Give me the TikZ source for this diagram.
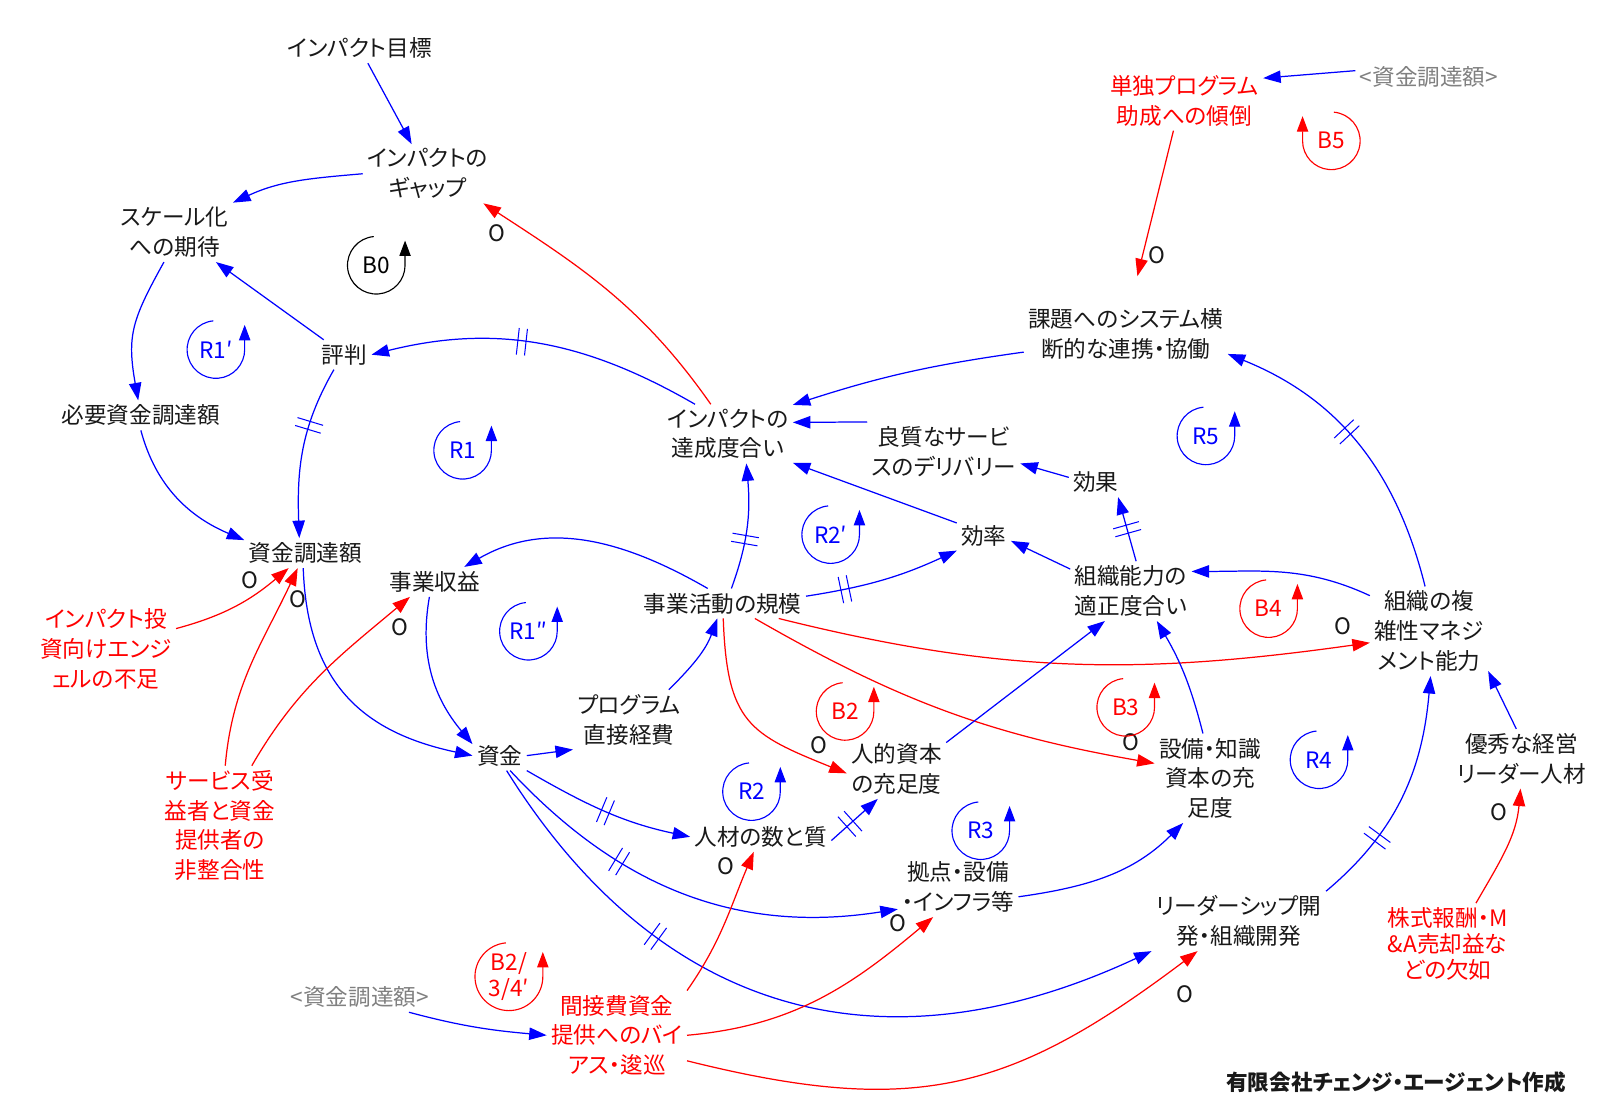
\documentclass[tikz,border=0pt]{standalone}
\usepackage{fontspec}
\setmainfont{Noto Sans CJK JP}[RawFeature=+palt]
\usetikzlibrary{arrows.meta,decorations.markings,calc}
\definecolor{cblue}{RGB}{0,0,255}
\definecolor{cred}{RGB}{255,0,0}
\definecolor{ctext}{RGB}{25,25,25}
\definecolor{cgray}{RGB}{128,128,128}
\newcommand\lpccw[5]{%
  \draw[#5, line width=0.55pt, -{Triangle[length=7.5pt,width=5.5pt]}] (#1,#2) ++(95:28) arc[start angle=95,end angle=360,radius=28] -- ++(0,24);
  \node[lbl, text=#5] (#4) at (#1,#2) {#3};}
\begin{document}
\begin{tikzpicture}[x=0.5pt,y=0.5pt,
  txt/.style={font=\fontsize{11}{14.5}\selectfont, align=center, inner sep=2pt, text=ctext},
  rtxt/.style={txt, text=cred},
  gtxt/.style={txt, text=cgray},
  lbl/.style={font=\fontsize{11}{12}\selectfont, align=center, inner sep=0pt},
  pol/.style={font=\fontsize{11}{12}\selectfont, inner sep=0pt, text=ctext},
  bl/.style={draw=cblue, line width=0.6pt, -{Triangle[length=8.5pt,width=6pt]}},
  rl/.style={draw=cred, line width=0.6pt, -{Triangle[length=8.5pt,width=6pt]}},
  dly/.style={postaction={decorate,decoration={markings,mark=at position #1 with {\draw[cblue,line width=0.5pt,-] (-2pt,-6.5pt) -- (-2pt,6.5pt) (2pt,-6.5pt) -- (2pt,6.5pt);}}}}
]
\fill[white] (0,0) rectangle (1568,-1075);
\path[use as bounding box] (0,0) rectangle (1568,-1075);

% ---------- variables ----------
\node[txt] (A) at (350,-47) {インパクト目標};
\node[txt] (B) at (416,-169) {インパクトの\\ギャップ};
\node[txt] (C) at (170,-226) {スケール化\\への期待};
\node[txt] (D) at (335,-345) {評判};
\node[txt] (E) at (137,-404) {必要資金調達額};
\node[txt] (F) at (297,-538) {資金調達額};
\node[txt] (G) at (423,-566) {事業収益};
\node[txt] (H) at (708,-422) {インパクトの\\達成度合い};
\node[txt] (I) at (918,-439) {良質なサービ\\スのデリバリー};
\node[txt] (J) at (1066,-469) {効果};
\node[txt] (K) at (957,-521) {効率};
\node[txt] (L) at (1100,-575) {組織能力の\\適正度合い};
\node[txt] (M) at (1390,-614) {組織の複\\雑性マネジ\\メント能力};
\node[txt] (N) at (703,-587) {事業活動の規模};
\node[txt] (P) at (612,-700) {プログラム\\直接経費};
\node[txt] (Q) at (486,-735) {資金};
\node[txt] (R) at (872,-748) {人的資本\\の充足度};
\node[txt] (S) at (740,-814) {人材の数と質};
\node[txt] (T) at (932,-863) {拠点・設備\\・インフラ等};
\node[txt] (U) at (1177,-757) {設備・知識\\資本の充\\足度};
\node[txt] (V) at (1095,-325) {課題へのシステム横\\断的な連携・協働};
\node[txt] (W) at (1480,-738) {優秀な経営\\リーダー人材};
\node[txt] (X) at (1205,-896) {リーダーシップ開\\発・組織開発};
\node[rtxt] (Y) at (1152,-98) {単独プログラム\\助成への傾倒};
\node[rtxt] (Z) at (103,-631) {インパクト投\\資向けエンジ\\ェルの不足};
\node[rtxt] (AA) at (214,-803) {サービス受\\益者と資金\\提供者の\\非整合性};
\node[rtxt] (AB) at (600,-1007) {間接費資金\\提供へのバイ\\アス・逡巡};
\node[rtxt, font=\fontsize{11}{12.5}\selectfont] (AC) at (1408,-918) {株式報酬・M\\\&A売却益な\\どの欠如};
\node[gtxt] (AD) at (1390,-75) {<資金調達額>};
\node[gtxt] (AE) at (350,-970) {<資金調達額>};
\node[txt, font=\fontsize{10.5}{12}\selectfont\bfseries] (credit) at (1358,-1053) {有限会社チェンジ・エージェント作成};

% ---------- connectors ----------
\draw[bl] (A) -- (B);
\draw[bl] (B.west) to[out=185,in=25] (C.north east);
\draw[bl] (D) -- (C);
\draw[bl] (C.250) to[out=241,in=100,looseness=1.2] (E.100);
\draw[bl] (E.south) to[out=285,in=157] (F.168);
\draw[bl,dly=0.35] (D.235) to[out=240,in=92] (F.112);
\draw[bl,dly=0.55] (H.138) to[out=150,in=14] (D.east);
\draw[rl] (H.120) to[out=125,in=-33] (B.-28);
\draw[bl] (V.190) to[bend right=5] (H.24);
\draw[bl] (I.159) -- (H.10);
\draw[bl] (K.155) -- (H.-24);
\draw[bl] (J.170) -- (I.-9);
\draw[bl] (L.160) -- (K.-11);
\draw[bl,dly=0.5] (L.80) -- (J.-34);
\draw[bl,dly=0.25] (N.5) to[bend right=8] (K.209);
\draw[bl,dly=0.4] (N.60) to[out=70,in=275] (H.-58);
\draw[bl] (N.135) to[out=150,in=30] (G.27);
\draw[bl] (M.149) to[out=155,in=0] (L.18);
\draw[bl,dly=0.55] (M.95) to[out=104,in=338] (V.-11);
\draw[rl] (N.-15) to[out=-14,in=188] (M.191);
\draw[rl] (N.-25) to[bend right=10] (U.165);
\draw[rl] (N.272) to[out=272,in=158,looseness=1.35] (R.185);
\draw[bl] (R.28) -- (L.229);
\draw[bl] (U.99) to[bend right=8] (L.-49);
\draw[bl] (W.100) -- (M.-34);
\draw[bl,dly=0.3] (X.north east) to[out=40,in=265] (M.272);
\draw[rl] (AC.55) to[out=60,in=265] (W.268);
\draw[bl] (F.262) to[out=272,in=168,looseness=1.15] (Q.west);
\draw[bl] (G.250) to[out=260,in=130] (Q.157);
\draw[bl] (Q.east) -- (P.south west);
\draw[bl] (P.37) to[out=45,in=250] (N.250);
\draw[bl,dly=0.5] (Q.south east) to[out=-30,in=168] (S.west);
\draw[bl,dly=0.4] (S.-3) -- (R.238);
\draw[bl,dly=0.33] (Q.-55) to[out=-47,in=189] (T.200);
\draw[bl,dly=0.3] (Q.-65) to[out=-58,in=205,looseness=1.12] (X.south west);
\draw[bl] (T.-9) to[out=8,in=225] (U.239);
\draw[rl] (AB.north east) to[out=55,in=247] (S.245);
\draw[rl] (AB.east) to[out=5,in=220] (T.230);
\draw[rl] (AB.-20) to[out=-14,in=217,looseness=1.15] (X.216);
\draw[bl] (AE.-17) to[out=-15,in=175] (AB.west);
\draw[bl] (AD.175) -- (Y.16);
\draw[rl,shorten >=14pt] (Y.250) -- (V.81);
\draw[rl] (Z.16) to[out=15,in=220] (F.222);
\draw[rl] (AA.85) to[out=85,in=245] (F.243);
\draw[rl] (AA.62) to[out=60,in=220] (G.211);

% ---------- polarity marks ----------
\node[pol] (o1) at (483,-227) {O};
\node[pol] (o2) at (243,-564) {O};
\node[pol] (o3) at (290,-583) {O};
\node[pol] (o4) at (389,-610) {O};
\node[pol] (o5) at (797,-725) {O};
\node[pol] (o6) at (706,-843) {O};
\node[pol] (o7) at (873,-898) {O};
\node[pol] (o8) at (1100,-722) {O};
\node[pol] (o9) at (1306,-609) {O};
\node[pol] (o10) at (1153,-967) {O};
\node[pol] (o11) at (1458,-790) {O};
\node[pol] (o12) at (1125,-248) {O};

% ---------- loop markers ----------
\lpccw{366}{-258}{B0}{lB0}{black}
\lpccw{210}{-340}{R1′}{lR1p}{cblue}
\lpccw{450}{-438}{R1}{lR1}{cblue}
\lpccw{514}{-614}{R1″}{lR1pp}{cblue}
\lpccw{808}{-520}{R2′}{lR2p}{cblue}
\lpccw{822}{-692}{B2}{lB2}{cred}
\lpccw{731}{-770}{R2}{lR2}{cblue}
\lpccw{954}{-808}{R3}{lR3}{cblue}
\lpccw{1095}{-688}{B3}{lB3}{cred}
\lpccw{1173}{-424}{R5}{lR5}{cblue}
\lpccw{1234}{-592}{B4}{lB4}{cred}
\lpccw{1283}{-739}{R4}{lR4}{cblue}
\draw[cred, line width=0.55pt, -{Triangle[length=7.5pt,width=5.5pt]}] (1295,-137) ++(85:28) arc[start angle=85,end angle=-180,radius=28] -- ++(0,24);
\node[lbl, text=cred] (lB5) at (1295,-137) {B5};
\draw[cred, line width=0.55pt, -{Triangle[length=7.5pt,width=5.5pt]}] (495,-950) ++(95:33) arc[start angle=95,end angle=360,radius=33] -- ++(0,24);
\node[lbl, text=cred, font=\fontsize{11}{13}\selectfont] (lB234) at (495,-950) {B2/\\3/4′};
\end{tikzpicture}
\end{document}
